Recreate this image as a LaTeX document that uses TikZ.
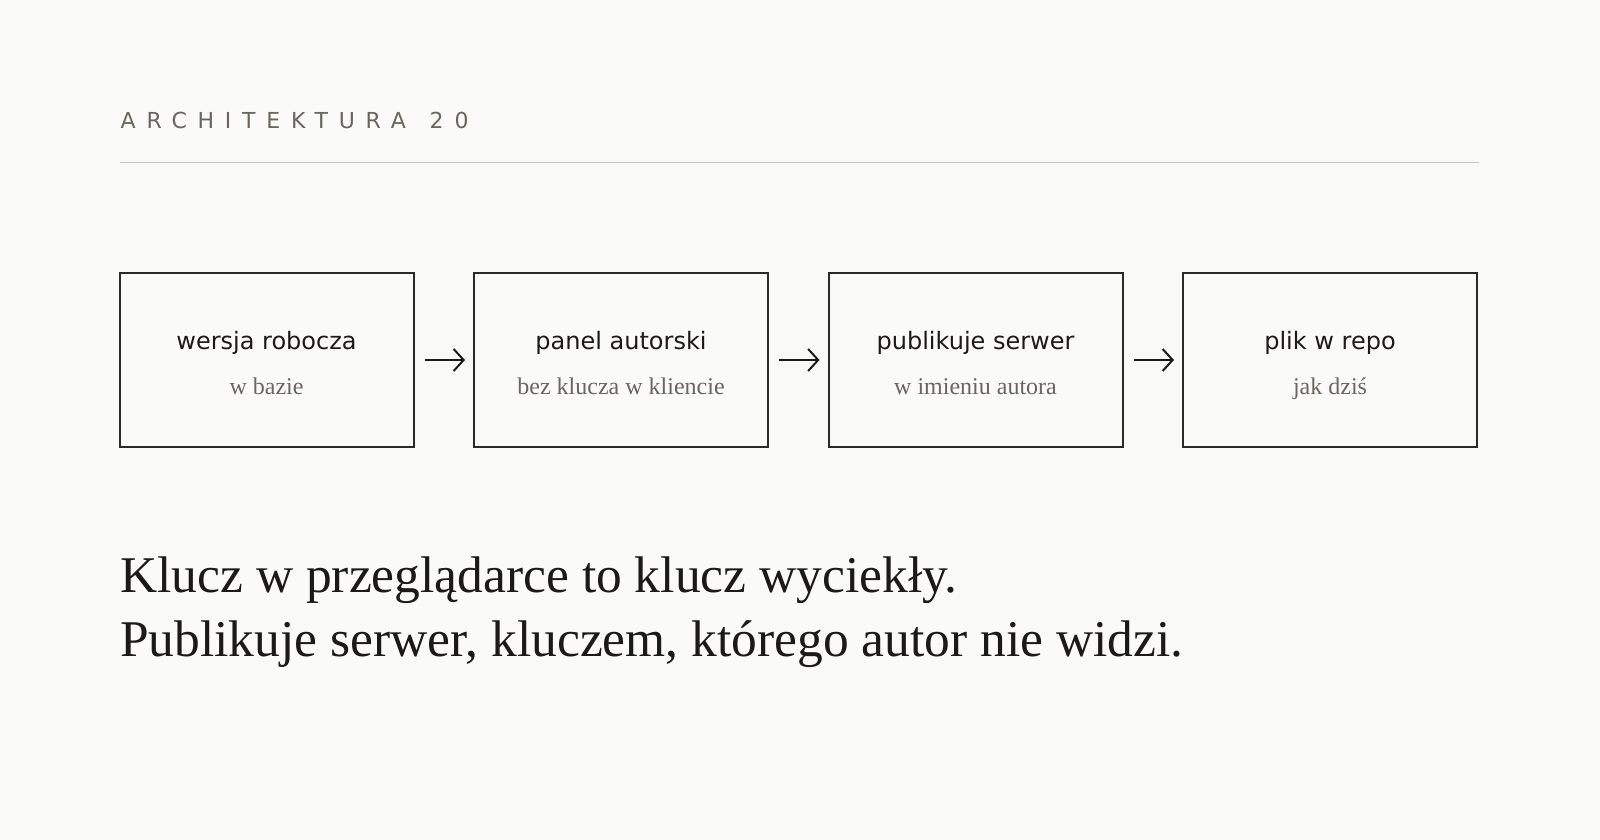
\documentclass[tikz,border=0pt]{standalone}
\usepackage{fontspec}
\setmainfont{Liberation Serif}
\newfontfamily\sansf{DejaVu Sans}
\newfontfamily\trackf[LetterSpace=49]{DejaVu Sans}
\usetikzlibrary{arrows.meta}
\definecolor{bg}{HTML}{FAFAF8}
\definecolor{ink}{HTML}{1C1A18}
\definecolor{boxline}{HTML}{2A2A2A}
\definecolor{muted}{HTML}{6B6560}
\definecolor{rulec}{HTML}{C4C4C2}
\tikzset{
  stepbox/.style={draw=boxline, line width=2pt, minimum width=294pt, minimum height=174pt, inner sep=0pt, outer sep=0pt},
  boxtitle/.style={anchor=base, inner sep=0pt, text=ink, font=\sansf\fontsize{24}{28}\selectfont},
  boxsub/.style={anchor=base, inner sep=0pt, text=muted, font=\fontsize{24}{28}\selectfont},
  flowarrow/.style={draw=ink, line width=2pt, -{Straight Barb[length=10pt,width=22pt,line width=2pt]}},
  headline/.style={anchor=base west, inner sep=0pt, text=ink, font=\fontsize{51.5}{60}\selectfont},
}
\begin{document}
\begin{tikzpicture}[x=1pt,y=-1pt]
\fill[bg] (0,0) rectangle (1600,840);
\useasboundingbox (0,0) rectangle (1600,840);
\node[anchor=base west, inner sep=0pt, text=muted, font=\trackf\fontsize{22}{26}\selectfont] (title) at (120.5,128.3) {ARCHITEKTURA\hspace{6pt} 20};
\draw[rulec, line width=1.5pt] (120,162.3) -- (1479,162.3);
\node[stepbox] (b1) at (266.5,360) {};
\node[stepbox] (b2) at (621,360) {};
\node[stepbox] (b3) at (975.5,360) {};
\node[stepbox] (b4) at (1330,360) {};
\node[boxtitle] (t1) at (266.5,349) {wersja robocza};
\node[boxsub] (s1) at (266.5,394) {w bazie};
\node[boxtitle] (t2) at (621,349) {panel autorski};
\node[boxsub] (s2) at (621,394) {bez klucza w kliencie};
\node[boxtitle] (t3) at (975.5,349) {publikuje serwer};
\node[boxsub] (s3) at (975.5,394) {w imieniu autora};
\node[boxtitle] (t4) at (1330,349) {plik w repo};
\node[boxsub] (s4) at (1330,394) {jak dziś};
\draw[flowarrow] ([xshift=11pt]b1.east) -- ([xshift=-9pt]b2.west);
\draw[flowarrow] ([xshift=11pt]b2.east) -- ([xshift=-9pt]b3.west);
\draw[flowarrow] ([xshift=11pt]b3.east) -- ([xshift=-9pt]b4.west);
\node[headline] (h1) at (120,592.7) {Klucz w przeglądarce to klucz wyciekły.};
\node[headline] (h2) at (120,656.7) {Publikuje serwer, kluczem, którego autor nie widzi.};
\end{tikzpicture}
\end{document}
